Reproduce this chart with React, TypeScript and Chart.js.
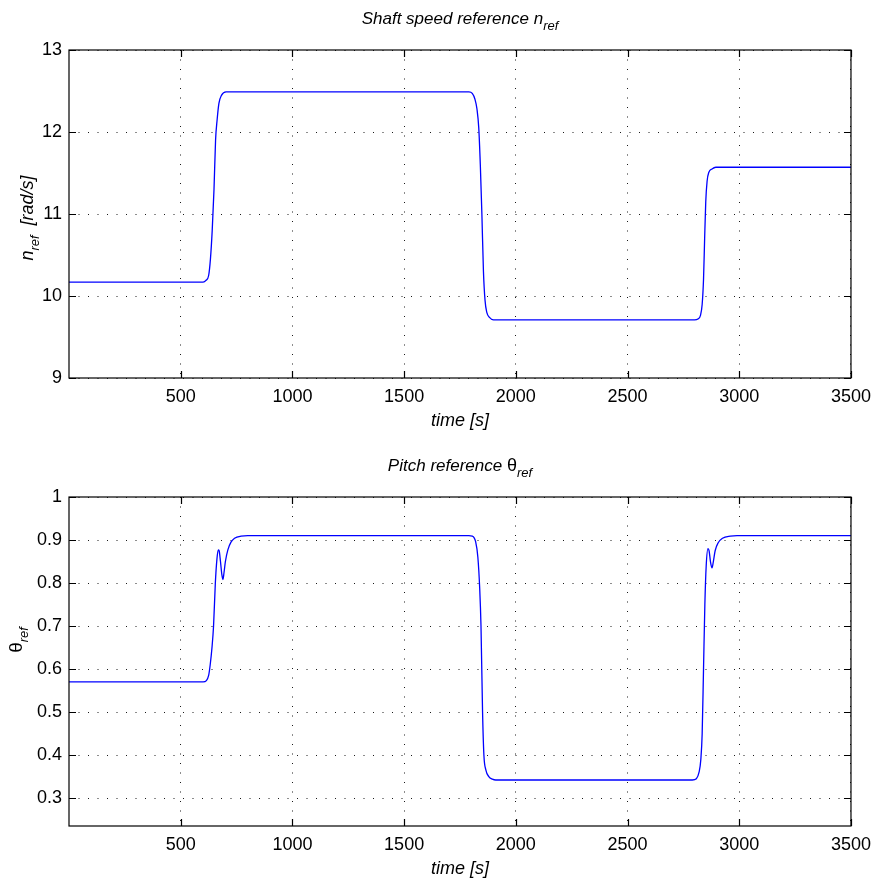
import React, { useEffect, useRef } from 'react';
import { Chart, registerables } from 'chart.js';

Chart.register(...registerables);

// Shaft speed reference n_ref [rad/s] over time [s]
const speedTimes = [
  0, 600, 613, 625, 633, 641, 649, 656, 663, 671,
  683, 703, 1790, 1805, 1817, 1826, 1834, 1841, 1848, 1855,
  1862, 1870, 1882, 1900, 2800, 2815, 2826, 2834, 2840, 2845,
  2850, 2856, 2864, 2878, 2895, 3500,
];
const speedValues = [
  10.17, 10.17, 10.19, 10.25, 10.45, 10.8, 11.3, 11.9, 12.15, 12.35,
  12.45, 12.49, 12.49, 12.47, 12.4, 12.28, 12.05, 11.6, 11.0, 10.3,
  9.95, 9.8, 9.74, 9.71, 9.71, 9.72, 9.76, 9.9, 10.2, 10.7,
  11.15, 11.4, 11.51, 11.55, 11.57, 11.57,
];

// Pitch reference theta_ref over time [s]
const pitchTimes = [
  0, 600, 615, 625, 632, 640, 647, 655, 662, 668,
  672, 678, 684, 689, 694, 700, 711, 725, 741, 770,
  800, 1790, 1805, 1820, 1830, 1838, 1844, 1851, 1857, 1866,
  1879, 1895, 1910, 2790, 2808, 2820, 2828, 2834, 2840, 2846,
  2852, 2860, 2865, 2871, 2878, 2884, 2892, 2905, 2925, 2960,
  2990, 3500,
];
const pitchValues = [
  0.57, 0.57, 0.573, 0.585, 0.61, 0.65, 0.70, 0.80, 0.855, 0.877,
  0.875, 0.85, 0.82, 0.808, 0.825, 0.85, 0.877, 0.895, 0.904, 0.909,
  0.91, 0.91, 0.909, 0.896, 0.86, 0.79, 0.70, 0.50, 0.40, 0.365,
  0.35, 0.344, 0.342, 0.342, 0.345, 0.36, 0.39, 0.45, 0.6, 0.75,
  0.84, 0.88, 0.875, 0.85, 0.835, 0.85, 0.875, 0.893, 0.904, 0.909,
  0.91, 0.91,
];

const timeTicks = [500, 1000, 1500, 2000, 2500, 3000, 3500];
const speedTicks = [9, 10, 11, 12, 13];
const pitchTicks = [0.3, 0.4, 0.5, 0.6, 0.7, 0.8, 0.9, 1];

const W = 879;
const H = 442;
const FAMILY = '"Liberation Sans", Arial, Helvetica, sans-serif';

type Part = { text: string; size: number; italic?: boolean; dy?: number };

function fontOf(p: Part) {
  return `${p.italic ? 'italic ' : ''}${p.size}px ${FAMILY}`;
}

// draws a run of text pieces (with subscripts) centred on x at baseline y
function drawParts(ctx: CanvasRenderingContext2D, parts: Part[], x: number, y: number) {
  let total = 0;
  const widths = parts.map((p) => {
    ctx.font = fontOf(p);
    const w = ctx.measureText(p.text).width;
    total += w;
    return w;
  });
  let cx = x - total / 2;
  ctx.textAlign = 'left';
  ctx.textBaseline = 'alphabetic';
  parts.forEach((p, i) => {
    ctx.font = fontOf(p);
    ctx.fillText(p.text, cx, y + (p.dy || 0));
    cx += widths[i];
  });
}

const framePlugin = {
  id: 'frame',
  afterDraw(chart: any, _args: any, opts: any) {
    const { ctx, chartArea: a, scales } = chart;
    ctx.save();
    ctx.strokeStyle = '#000';
    ctx.lineWidth = 1.2;
    ctx.strokeRect(a.left, a.top, a.right - a.left, a.bottom - a.top);
    const tl = 7;
    ctx.beginPath();
    opts.xTicks.forEach((v: number) => {
      const px = Math.round(scales.x.getPixelForValue(v)) + 0.5;
      ctx.moveTo(px, a.bottom);
      ctx.lineTo(px, a.bottom - tl);
      ctx.moveTo(px, a.top);
      ctx.lineTo(px, a.top + tl);
    });
    opts.yTicks.forEach((v: number) => {
      const py = Math.round(scales.y.getPixelForValue(v)) + 0.5;
      ctx.moveTo(a.left, py);
      ctx.lineTo(a.left + tl, py);
      ctx.moveTo(a.right, py);
      ctx.lineTo(a.right - tl, py);
    });
    ctx.stroke();

    ctx.fillStyle = '#000';
    const cx = (a.left + a.right) / 2;
    drawParts(ctx, opts.title, cx, a.top - 26);
    drawParts(ctx, opts.xTitle, cx, a.bottom + 48);

    ctx.translate(opts.yTitleX, opts.yTitleY);
    ctx.rotate(-Math.PI / 2);
    drawParts(ctx, opts.yTitle, 0, 0);
    ctx.restore();
  },
};

type PanelProps = {
  times: number[];
  values: number[];
  yMin: number;
  yMax: number;
  yTicks: number[];
  yLabel: (v: number) => string;
  areaTop: number;
  areaBottom: number;
  title: Part[];
  yTitle: Part[];
  yTitleX: number;
  yTitleY: number;
};

function Panel(props: PanelProps) {
  const ref = useRef<HTMLCanvasElement>(null);
  useEffect(() => {
    if (!ref.current) return;
    const tickFont = { family: FAMILY, size: 18 };
    const grid = { color: '#1a1a1a', lineWidth: 1, drawTicks: false };
    const border = { display: false, dash: [1, 8.5] };
    const chart = new Chart(ref.current, {
      type: 'line',
      data: {
        datasets: [
          {
            data: props.times.map((t, i) => ({ x: t, y: props.values[i] })),
            borderColor: '#0000ff',
            borderWidth: 1.3,
            pointRadius: 0,
            cubicInterpolationMode: 'monotone',
            fill: false,
          },
        ],
      },
      options: {
        responsive: false,
        animation: false,
        devicePixelRatio: 1,
        layout: { padding: { left: 0, right: 27, top: props.areaTop, bottom: 0 } },
        plugins: {
          legend: { display: false },
          tooltip: { enabled: false },
          frame: {
            xTicks: timeTicks,
            yTicks: props.yTicks,
            title: props.title,
            xTitle: [{ text: 'time [s]', size: 18, italic: true }],
            yTitle: props.yTitle,
            yTitleX: props.yTitleX,
            yTitleY: props.yTitleY,
          },
        } as any,
        scales: {
          x: {
            type: 'linear',
            min: 0,
            max: 3500,
            afterBuildTicks: (s: any) => {
              s.ticks = timeTicks.map((v) => ({ value: v }));
            },
            afterFit: (s: any) => {
              s.height = H - props.areaBottom;
            },
            ticks: {
              autoSkip: false,
              maxRotation: 0,
              padding: 8,
              color: '#000',
              font: tickFont,
              callback: (v: any) => String(v),
            },
            grid,
            border,
          },
          y: {
            type: 'linear',
            min: props.yMin,
            max: props.yMax,
            afterBuildTicks: (s: any) => {
              s.ticks = props.yTicks.map((v) => ({ value: v }));
            },
            afterFit: (s: any) => {
              s.width = 69;
            },
            ticks: {
              autoSkip: false,
              padding: 7,
              color: '#000',
              font: tickFont,
              callback: (v: any) => props.yLabel(Number(v)),
            },
            grid,
            border,
          },
        },
      } as any,
      plugins: [framePlugin],
    });
    return () => chart.destroy();
  }, []);
  return <canvas ref={ref} width={W} height={H} style={{ display: 'block', width: W, height: H }} />;
}

export default function App() {
  return (
    <div style={{ position: 'absolute', left: 0, top: 0, width: W, height: 884, background: '#fff' }}>
      <Panel
        times={speedTimes}
        values={speedValues}
        yMin={9}
        yMax={13}
        yTicks={speedTicks}
        yLabel={(v) => String(v)}
        areaTop={50}
        areaBottom={378}
        title={[
          { text: 'Shaft speed reference n', size: 17, italic: true },
          { text: 'ref', size: 13, italic: true, dy: 6 },
        ]}
        yTitle={[
          { text: 'n', size: 18, italic: true },
          { text: 'ref', size: 13, italic: true, dy: 6 },
          { text: '  [rad/s]', size: 18, italic: true },
        ]}
        yTitleX={33}
        yTitleY={218}
      />
      <Panel
        times={pitchTimes}
        values={pitchValues}
        yMin={0.235}
        yMax={1}
        yTicks={pitchTicks}
        yLabel={(v) => (v === 1 ? '1' : v.toFixed(1))}
        areaTop={55}
        areaBottom={384}
        title={[
          { text: 'Pitch reference ', size: 17, italic: true },
          { text: 'θ', size: 18 },
          { text: 'ref', size: 13, italic: true, dy: 6 },
        ]}
        yTitle={[
          { text: 'θ', size: 19 },
          { text: 'ref', size: 13, italic: true, dy: 6 },
        ]}
        yTitleX={22}
        yTitleY={198}
      />
    </div>
  );
}
